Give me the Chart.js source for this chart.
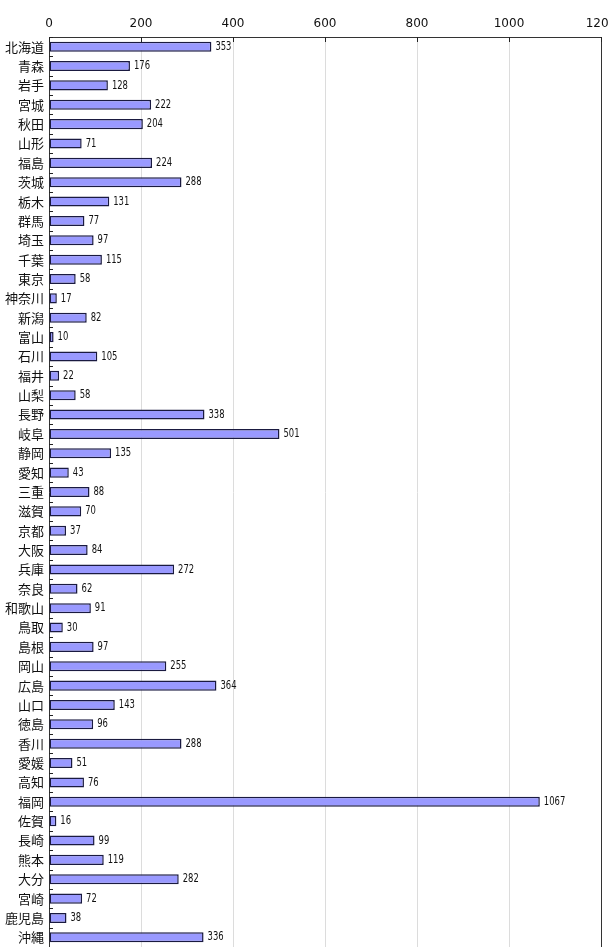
<!DOCTYPE html>
<html><head><meta charset="utf-8">
<script src="https://cdn.jsdelivr.net/npm/chart.js@4/dist/chart.umd.min.js"></script>
<style>html,body{margin:0;padding:0;background:#fff;overflow:hidden}#wrap{width:609px;height:947px;position:relative}</style>
</head><body><div id="wrap"><canvas id="c" width="609" height="947"></canvas></div>
<script>
const categories = ["北海道","青森","岩手","宮城","秋田","山形","福島","茨城","栃木","群馬","埼玉","千葉","東京","神奈川","新潟","富山","石川","福井","山梨","長野","岐阜","静岡","愛知","三重","滋賀","京都","大阪","兵庫","奈良","和歌山","鳥取","島根","岡山","広島","山口","徳島","香川","愛媛","高知","福岡","佐賀","長崎","熊本","大分","宮崎","鹿児島","沖縄"];
const values = [353,176,128,222,204,71,224,288,131,77,97,115,58,17,82,10,105,22,58,338,501,135,43,88,70,37,84,272,62,91,30,97,255,364,143,96,288,51,76,1067,16,99,119,282,72,38,336];
const xTicks = [0,200,400,600,800,1000,1200];

const decor = {
  id:'decor',
  afterDatasetsDraw(chart){
    const {ctx, chartArea:a, scales:{x,y}} = chart;
    ctx.save();
    ctx.strokeStyle = '#333'; ctx.lineWidth = 1;
    ctx.beginPath(); ctx.moveTo(Math.round(a.right)+0.5, a.top); ctx.lineTo(Math.round(a.right)+0.5, a.bottom); ctx.stroke();
    ctx.strokeStyle = '#222';
    xTicks.forEach(v=>{ const px=Math.round(x.getPixelForValue(v))+0.5; ctx.beginPath(); ctx.moveTo(px,a.top); ctx.lineTo(px,a.top+5); ctx.stroke();});
    for(let i=0;i<=categories.length;i++){
      const py = Math.round(y.getPixelForValue(i-0.5))+0.5;
      ctx.beginPath(); ctx.moveTo(a.left, py); ctx.lineTo(a.left+4, py); ctx.stroke();
    }
    const meta = chart.getDatasetMeta(0);
    ctx.fillStyle = '#111';
    ctx.font = '12px "DejaVu Sans Condensed", "DejaVu Sans", sans-serif';
    ctx.textBaseline = 'middle'; ctx.textAlign='left';
    const sx = 0.78;
    meta.data.forEach((bar,i)=>{
      ctx.save();
      ctx.translate(bar.x+4, bar.y);
      ctx.scale(sx,1);
      ctx.fillText(String(values[i]), 0, 0);
      ctx.restore();
    });
    ctx.restore();
  }
};

new Chart(document.getElementById('c'), {
  type:'bar',
  data:{ labels:categories, datasets:[{ data:values, backgroundColor:'#9999FF', borderColor:'#1a1a40', borderWidth:1.5, borderSkipped:false, barPercentage:0.52, categoryPercentage:1.0 }]},
  options:{
    indexAxis:'y', responsive:false, animation:false, devicePixelRatio:1,
    layout:{ padding:{ left:0, right:8, top:0, bottom:0 } },
    plugins:{ legend:{display:false}, tooltip:{enabled:false} },
    scales:{
      x:{ position:'top', min:0, max:1200, afterBuildTicks(s){ s.ticks = xTicks.map(v=>({value:v})); },
          ticks:{ color:'#111', font:{family:'"DejaVu Sans", sans-serif', size:12}, padding:6, maxRotation:0, autoSkip:false, callback:(v)=>String(v) },
          grid:{ color:'#dcdcdc', drawTicks:false, lineWidth:1 },
          border:{ color:'#333', width:1 },
          afterFit(s){ s.height = 37; s.paddingLeft=0; s.paddingRight=0; } },
      y:{ ticks:{ color:'#111', font:{family:'"Noto Sans CJK JP", sans-serif', size:13}, padding:5, autoSkip:false },
          grid:{ display:false, drawTicks:false },
          border:{ color:'#333', width:1 },
          afterFit(s){ s.width = 49; s.paddingTop=0; s.paddingBottom=0; } }
    }
  },
  plugins:[decor]
});
</script></body></html>
